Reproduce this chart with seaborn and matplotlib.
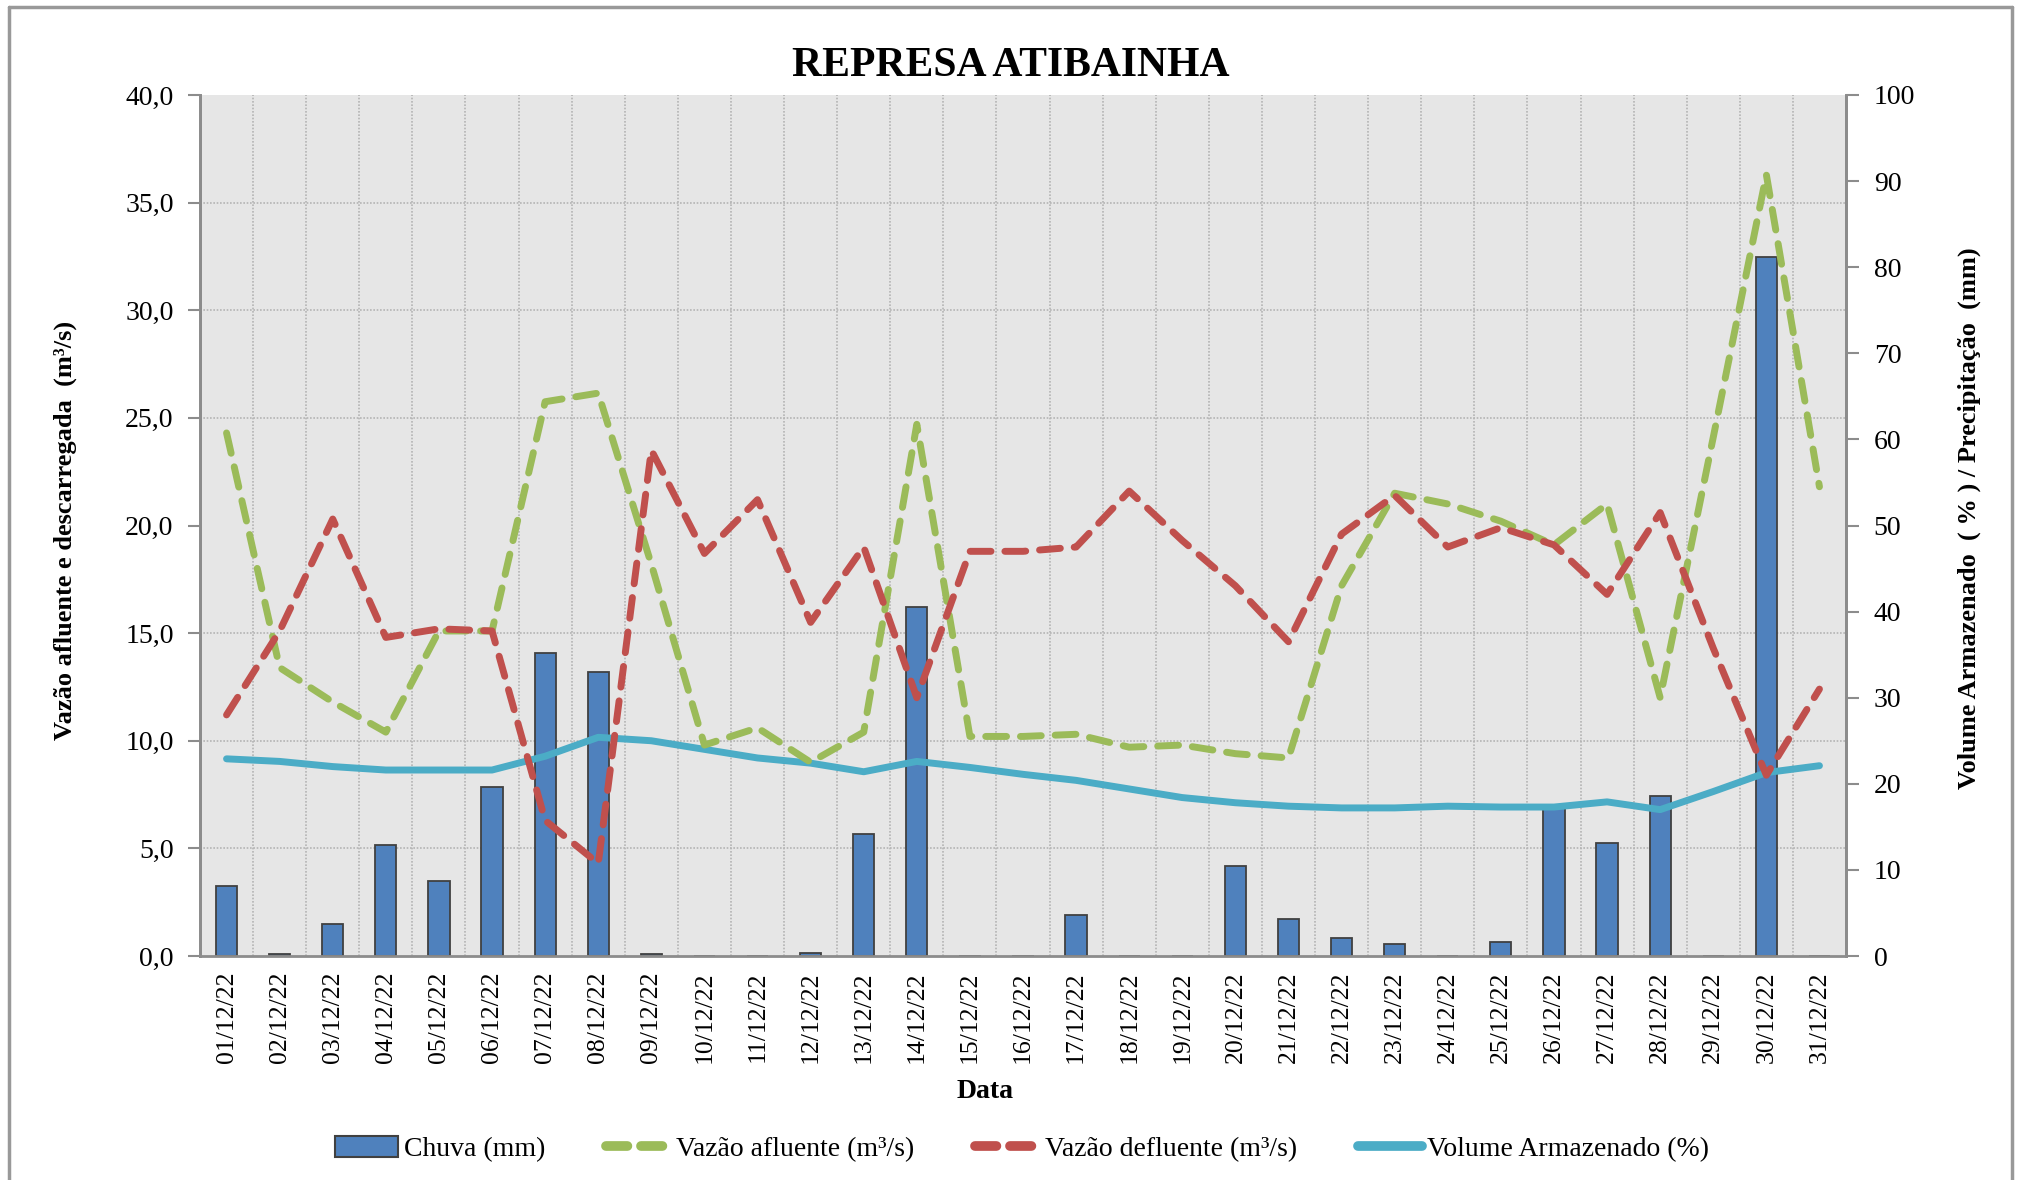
import numpy as np
import pandas as pd
import matplotlib
matplotlib.use("Agg")
import matplotlib.pyplot as plt
import seaborn as sns
from matplotlib.ticker import MultipleLocator, FixedLocator, FuncFormatter
from matplotlib.patches import Patch
from matplotlib.lines import Line2D

# ---------------- data ----------------
datas = [f"{d:02d}/12/22" for d in range(1, 32)]
chuva = [8.1, 0.2, 3.7, 12.9, 8.7, 19.6, 35.2, 33.0, 0.2, 0.0, 0.0, 0.4,
         14.2, 40.5, 0.0, 0.0, 4.8, 0.0, 0.0, 10.5, 4.3, 2.1, 1.4, 0.0,
         1.6, 17.5, 13.1, 18.6, 0.0, 81.2, 0.0]
vazao_afluente = [24.3, 13.4, 11.8, 10.4, 15.1, 15.1, 25.75, 26.15, 18.2, 9.8, 10.6, 9.0,
                  10.4, 24.7, 10.2, 10.2, 10.3, 9.7, 9.8, 9.4, 9.2, 17.2, 21.5, 21.0,
                  20.2, 19.1, 21.0, 12.0, 24.1, 36.3, 21.8]
vazao_defluente = [11.2, 15.1, 20.3, 14.8, 15.2, 15.1, 6.3, 4.3, 23.5, 18.7, 21.2, 15.5,
                   19.0, 12.0, 18.8, 18.8, 19.0, 21.6, 19.3, 17.2, 14.6, 19.6, 21.4, 19.0,
                   19.9, 19.1, 16.8, 20.6, 14.3, 8.4, 12.4]
volume = [22.9, 22.6, 22.0, 21.6, 21.6, 21.6, 23.2, 25.4, 25.0, 24.0, 23.0, 22.4,
          21.4, 22.6, 21.9, 21.1, 20.4, 19.4, 18.4, 17.8, 17.4, 17.2, 17.2, 17.4,
          17.3, 17.3, 17.9, 17.0, 19.1, 21.3, 22.1]

left_ticks = np.arange(0, 40.1, 5)
right_ticks = np.arange(0, 101, 10)

df = pd.DataFrame({"Data": datas, "pos": np.arange(len(datas)), "Chuva": chuva,
                   "Afluente": vazao_afluente, "Defluente": vazao_defluente,
                   "Volume": volume})

C_BAR = "#4F81BD"
C_GREEN = "#9BBB59"
C_RED = "#C0504D"
C_CYAN = "#4BACC6"
C_AXIS = "#8C8C8C"

sns.set_style("white")
plt.rcParams["font.family"] = ["Liberation Serif", "DejaVu Serif"]
plt.rcParams.update({"text.color": "black", "axes.labelcolor": "black",
                     "xtick.color": "black", "ytick.color": "black"})

fig = plt.figure(figsize=(20.18, 11.8), dpi=100)
W, H = 2018, 1180
L, R, T, B = 200, 1846, 95, 956
ax = fig.add_axes([L / W, 1 - B / H, (R - L) / W, (B - T) / H])
ax.set_facecolor("#E6E6E6")

# bars (right scale) + volume
sns.barplot(data=df, x="Data", y="Chuva", ax=ax, color=C_BAR, width=0.4,
            edgecolor="#404040", linewidth=1.3, saturation=1, zorder=2)
sns.lineplot(data=df, x="pos", y="Volume", ax=ax, color=C_CYAN, linewidth=5,
             solid_capstyle="round", zorder=3)
ax.set_ylim(0, 100)
ax.set_xlim(-0.5, len(datas) - 0.5)

# flows (left scale) on twin axis
ax2 = ax.twinx()
sns.lineplot(data=df, x="pos", y="Afluente", ax=ax2, color=C_GREEN, linewidth=5,
             linestyle=(0, (3.0, 2.0)), dash_capstyle="round")
sns.lineplot(data=df, x="pos", y="Defluente", ax=ax2, color=C_RED, linewidth=5,
             linestyle=(0, (3.0, 2.0)), dash_capstyle="round")
ax2.set_ylim(0, 40)
ax2.set_xlim(-0.5, len(datas) - 0.5)

# axis placement: flows on the left, volume/rain on the right
ax.yaxis.tick_right()
ax2.yaxis.tick_left()
ax.set_yticks(right_ticks)
ax.set_yticklabels([f"{int(v)}" for v in right_ticks])
ax2.set_yticks(left_ticks)
ax2.yaxis.set_major_formatter(FuncFormatter(lambda v, p: f"{v:.1f}".replace(".", ",")))

# grids: horizontal lines at the left-scale ticks, vertical at category borders
ax.yaxis.set_minor_locator(MultipleLocator(100 / 8))
ax.xaxis.set_minor_locator(FixedLocator(np.arange(-0.5, len(datas), 1)))
ax.grid(False)
ax.grid(which="minor", axis="both", color="#B4B4B4", linestyle=(0, (1, 1)), linewidth=1.2)
ax.set_axisbelow(True)
ax2.grid(False)

ax.set_xticks(np.arange(len(datas)))
ax.set_xticklabels(datas, rotation=90)
ax.tick_params(axis="x", which="major", length=0, pad=11, labelsize=18.5)
ax.tick_params(axis="x", which="minor", length=9, width=1.5, color=C_AXIS, direction="out")
ax.tick_params(axis="y", which="major", length=9, width=1.5, color=C_AXIS, direction="out",
               labelsize=20, pad=11, right=True, left=False, labelright=True, labelleft=False)
ax.tick_params(axis="y", which="minor", length=0)
ax2.tick_params(axis="y", which="major", length=9, width=1.5, color=C_AXIS, direction="out",
                labelsize=20, pad=10, left=True, right=False, labelleft=True, labelright=False)

ax.set_xlabel("")
ax.set_ylabel("")
ax2.set_ylabel("")
for a in (ax, ax2):
    a.spines["top"].set_visible(False)
    for s in ("left", "right", "bottom"):
        a.spines[s].set_color(C_AXIS)
        a.spines[s].set_linewidth(2)
ax2.spines["bottom"].set_visible(False)

# texts
fig.text(1011 / W, 1 - 66 / H, "REPRESA ATIBAINHA", ha="center", va="center",
         fontsize=30, fontweight="bold")
fig.text(65 / W, 1 - 530 / H, "Vazão afluente e descarregada  (m³/s)", rotation=90,
         ha="center", va="center", fontsize=19, fontweight="bold")
fig.text(1969 / W, 1 - 518 / H, "Volume Armazenado  ( % ) / Precipitação  (mm)", rotation=90,
         ha="center", va="center", fontsize=19, fontweight="bold")
fig.text(985 / W, 1 - 1091 / H, "Data", ha="center", va="center",
         fontsize=20, fontweight="bold")

# legend
handles = [
    Patch(facecolor=C_BAR, edgecolor="#404040", linewidth=1.5),
    Line2D([], [], color=C_GREEN, linewidth=7, linestyle=(0, (2.2, 1.4)), dash_capstyle="round"),
    Line2D([], [], color=C_RED, linewidth=7, linestyle=(0, (2.2, 1.4)), dash_capstyle="round"),
    Line2D([], [], color=C_CYAN, linewidth=7, solid_capstyle="round"),
]
labels = ["Chuva (mm)", "Vazão afluente (m³/s)", "Vazão defluente (m³/s)", "Volume Armazenado (%)"]
fig.legend(handles, labels, loc="center", bbox_to_anchor=(1022 / W, 1 - 1149 / H), ncol=4,
           frameon=False, fontsize=20, handlelength=2.3, handletextpad=0.2,
           columnspacing=2.2, handleheight=0.8)

# outer border
for xs, ys in [((9 / W, 2012 / W), (1 - 7 / H, 1 - 7 / H)),
               ((9 / W, 9 / W), (1 - 7 / H, 0)),
               ((2012 / W, 2012 / W), (1 - 7 / H, 0))]:
    fig.add_artist(Line2D(xs, ys, color="#999999", linewidth=2.5, transform=fig.transFigure))

fig.savefig("out.png", dpi=100, facecolor="white")
